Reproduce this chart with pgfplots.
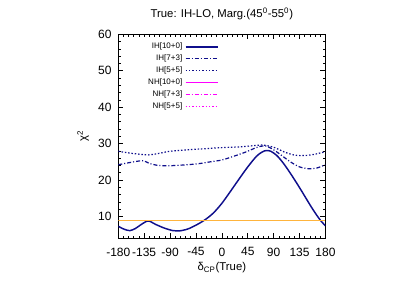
\documentclass[border=0pt]{standalone}
\usepackage{fontspec}
\setmainfont{Liberation Sans}
\usepackage{pgfplots}
\pgfplotsset{compat=1.18}
\definecolor{ih}{RGB}{15,15,140}
\definecolor{nh}{RGB}{255,0,255}
\definecolor{lim}{RGB}{255,180,60}
\tikzset{dashdot/.style={dash pattern={on 3pt off 1.5pt on 0.8pt off 1.5pt}},
         dotty/.style={dash pattern={on 1.1pt off 1.4pt}}}
\begin{document}
\begin{tikzpicture}
\path[use as bounding box] (0,0) rectangle (311.25pt,217.5pt);
\begin{axis}[
  at={(88.7pt,38.8pt)}, anchor=south west,
  scale only axis, width=155.4pt, height=152.9pt,
  xmin=-180, xmax=180, ymin=4, ymax=60,
  xtick={-180,-135,...,180}, ytick={10,20,...,60},
  minor x tick num=4, minor y tick num=4,
  tick align=inside,
  major tick length=3.8pt, minor tick length=2pt,
  tick style={black, line width=0.5pt},
  axis line style={black, line width=0.6pt},
  /pgf/number format/assume math mode=true,
  ticklabel style={font=\fontsize{9}{10}\selectfont},
  xticklabel style={yshift=-3.5pt},
  yticklabel style={xshift=-1.5pt},
  title={True: IH-LO, Marg.(45\textsuperscript{0}-55\textsuperscript{0})},
  title style={font=\fontsize{8.5}{10}\selectfont, at={(axis description cs:0.5,1.10)}, anchor=center, yshift=-6pt},
  xlabel={δ\textsubscript{CP}(True)},
  xlabel style={font=\fontsize{8.5}{10}\selectfont, at={(axis description cs:0.5,-0.1457)}, anchor=center},
  ylabel={χ\textsuperscript{2}},
  ylabel style={font=\fontsize{8.5}{10}\selectfont, at={(axis description cs:-0.17,0.5)}, anchor=center},
  legend style={draw=white, at={(0.505,0.985)}, anchor=north east,
    font=\fontsize{6}{7}\selectfont, row sep=-0.9pt},
  legend cell align=right,
  legend plot pos=right,
]
\addplot[color=ih, line width=1.1pt, smooth, tension=0.5,
  legend image code/.code={\draw[ih, line width=1.1pt] (0cm,0cm) -- (0.85cm,0cm);}] coordinates {
(-180,7.3) (-170,6.5) (-160,6.1) (-150,6.7) (-140,7.8) (-128,8.75) (-115,7.8)
(-100,6.8) (-85,6.1) (-75,6.0) (-60,6.5) (-45,7.6) (-30,9.0) (-15,10.9) (0,13.6)
(15,16.9) (30,20.3) (45,23.6) (60,26.5) (70,27.7) (77,28.1) (85,27.9) (95,26.8)
(105,25.0) (115,22.8) (125,20.4) (135,17.9) (145,15.3) (155,12.7) (165,10.3) (172,8.8) (180,7.4)};
\addlegendentry{IH[10+0]}
\addplot[color=ih, line width=0.9pt, dashdot, smooth, tension=0.5,
  legend image code/.code={\draw[ih, line width=0.9pt, dashdot] (0cm,0cm) -- (0.85cm,0cm);}] coordinates {
(-180,24.2) (-160,24.8) (-145,25.2) (-136,25.3) (-125,24.5) (-110,24.0) (-95,23.9)
(-80,24.0) (-60,24.2) (-40,24.5) (-20,25.0) (0,25.5) (20,26.5) (40,27.6) (60,28.9)
(75,29.4) (90,28.3) (105,26.6) (120,24.9) (135,23.6) (150,23.1) (165,23.3) (180,24.2)};
\addlegendentry{IH[7+3]}
\addplot[color=ih, line width=0.9pt, dotty, smooth, tension=0.5,
  legend image code/.code={\draw[ih, line width=0.9pt, dotty] (0cm,0cm) -- (0.85cm,0cm);}] coordinates {
(-180,27.9) (-155,27.3) (-128,26.9) (-110,27.3) (-90,27.9) (-60,28.3) (-30,28.6)
(0,28.9) (30,29.1) (60,29.5) (72,29.6) (90,29.0) (110,27.6) (125,26.9) (136,26.7)
(150,26.8) (165,27.2) (180,27.8)};
\addlegendentry{IH[5+5]}
\addlegendimage{legend image code/.code={\draw[nh, line width=0.9pt] (0cm,0cm) -- (0.85cm,0cm);}}
\addlegendentry{NH[10+0]}
\addlegendimage{legend image code/.code={\draw[nh, line width=0.9pt, dashdot] (0cm,0cm) -- (0.85cm,0cm);}}
\addlegendentry{NH[7+3]}
\addlegendimage{legend image code/.code={\draw[nh, line width=0.9pt, dotty] (0cm,0cm) -- (0.85cm,0cm);}}
\addlegendentry{NH[5+5]}
\addplot[color=lim, line width=0.8pt, forget plot] coordinates {(-180,9) (180,9)};
\end{axis}
\end{tikzpicture}
\end{document}
